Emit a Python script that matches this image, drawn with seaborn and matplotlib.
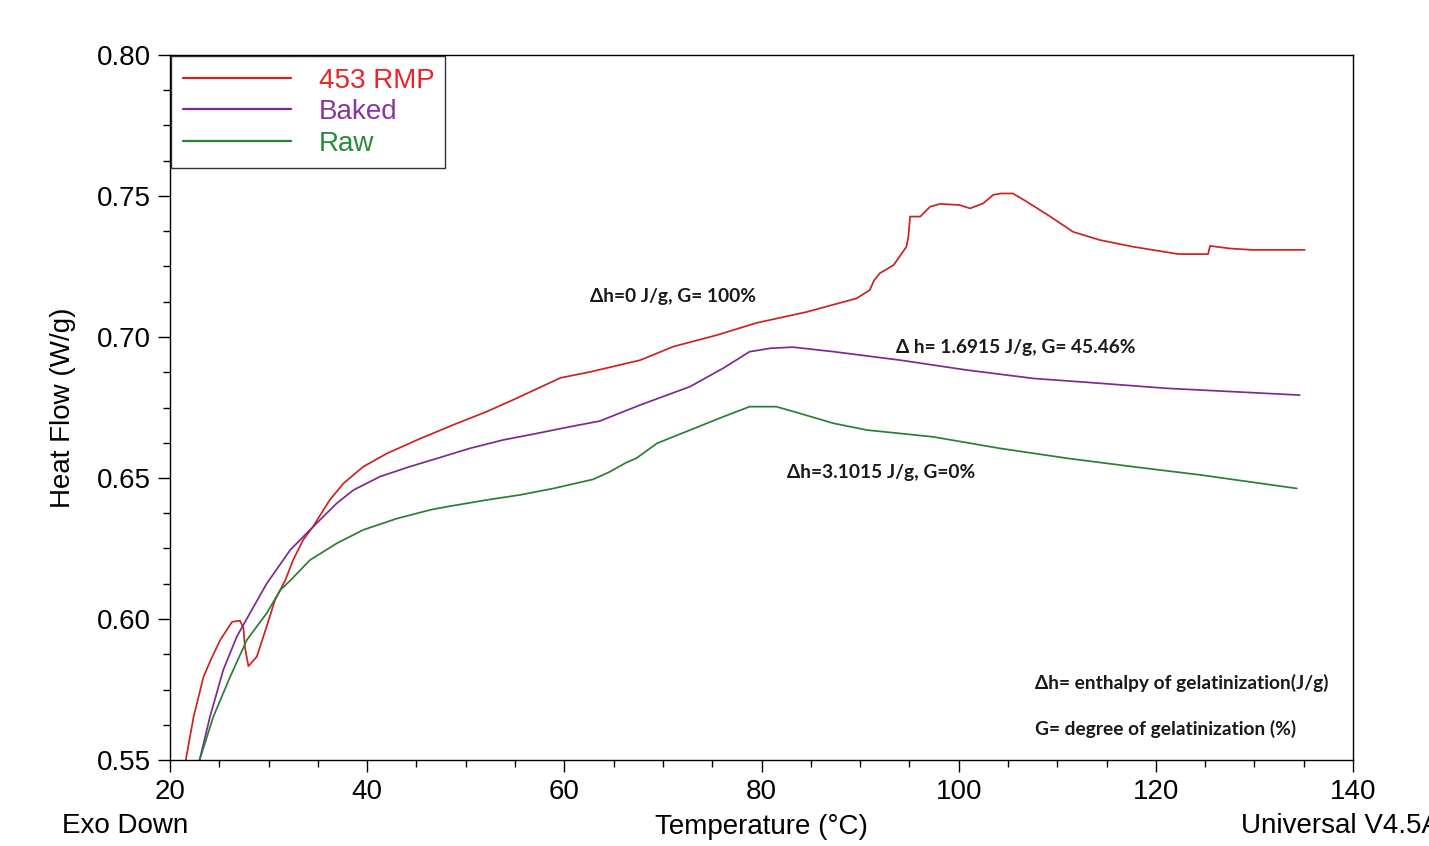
import numpy as np
import pandas as pd
import matplotlib
matplotlib.use("Agg")
import matplotlib.pyplot as plt
import seaborn as sns
from matplotlib.ticker import MultipleLocator, FormatStrFormatter
from matplotlib.lines import Line2D

# 453 RMP (red)
rmp_temp = [21.6, 22.4, 23.4, 24.2, 25.1, 26.3, 27.1, 27.45, 27.6, 27.95, 28.8, 29.8,
            30.65, 31.7, 32.5, 33.5, 34.5, 36.2, 37.6, 39.6, 42.0, 45.4, 48.7, 52.1,
            54.8, 59.6, 62.6, 67.7, 71.06, 75.5, 79.5, 84.6, 89.65, 91.0, 91.4, 92.0,
            93.4, 94.7, 94.9, 95.07, 96.1, 97.1, 98.1, 100.1, 101.15, 102.5, 103.5,
            104.3, 105.5, 106.9, 109.3, 111.6, 114.3, 117.7, 122.3, 125.3, 125.5,
            127.5, 129.7, 135.1]
rmp_flow = [0.550, 0.5654, 0.5795, 0.5860, 0.5926, 0.5990, 0.5994, 0.5968, 0.5900,
            0.5833, 0.5866, 0.5973, 0.6067, 0.6138, 0.6210, 0.6280, 0.6327, 0.6422,
            0.6481, 0.6540, 0.6587, 0.6640, 0.6688, 0.6735, 0.6777, 0.6855, 0.6876,
            0.6918, 0.6966, 0.7007, 0.7050, 0.7089, 0.7137, 0.7167, 0.7200, 0.7226,
            0.7255, 0.7320, 0.7356, 0.7427, 0.7427, 0.7462, 0.7472, 0.7468, 0.7456,
            0.7474, 0.7504, 0.7509, 0.7509, 0.7480, 0.7427, 0.7373, 0.7344, 0.7320,
            0.7294, 0.7294, 0.7323, 0.7314, 0.7309, 0.7309]

# Baked (purple)
baked_temp = [23.0, 24.06, 25.4, 26.77, 28.1, 29.8, 32.2, 34.2, 36.9, 38.6, 41.3, 44.3,
              47.05, 50.4, 53.8, 57.2, 60.6, 63.6, 67.7, 72.75, 76.1, 78.8, 80.9, 83.2,
              87.3, 94.05, 100.8, 107.6, 114.3, 121.1, 127.9, 134.6]
baked_flow = [0.550, 0.5654, 0.5819, 0.5937, 0.6020, 0.6125, 0.6245, 0.6316, 0.6410,
              0.6457, 0.6505, 0.6540, 0.6569, 0.6605, 0.6635, 0.6658, 0.6682, 0.6702,
              0.6759, 0.6824, 0.6889, 0.6948, 0.6960, 0.6964, 0.6948, 0.6918, 0.6883,
              0.6853, 0.6836, 0.6818, 0.6806, 0.6794]

# Raw (green)
raw_temp = [23.0, 24.4, 26.1, 27.8, 29.8, 31.2, 32.3, 34.2, 36.9, 39.6, 43.0, 46.4,
            48.05, 52.1, 55.5, 58.9, 62.9, 64.5, 66.3, 67.3, 69.4, 72.75, 76.1, 78.8,
            81.5, 83.9, 87.3, 90.7, 97.4, 104.2, 111.0, 117.7, 124.5, 134.3]
raw_flow = [0.550, 0.5654, 0.5795, 0.5926, 0.6020, 0.6103, 0.6140, 0.6209, 0.6268,
            0.6316, 0.6356, 0.6387, 0.6398, 0.6422, 0.6440, 0.6463, 0.6495, 0.6520,
            0.6555, 0.6570, 0.6623, 0.6670, 0.6717, 0.6753, 0.6753, 0.6729, 0.6694,
            0.6670, 0.6646, 0.6605, 0.6570, 0.6540, 0.6511, 0.6463]

series_names = ["453 RMP", "Baked", "Raw"]
line_colors = ["#cc2222", "#7d2a8e", "#2a7f32"]
text_colors = ["#e8242a", "#8a35a0", "#2a8a3a"]

notes = ["\u0394h=0 J/g, G= 100%", "\u0394 h= 1.6915 J/g, G= 45.46%", "\u0394h=3.1015 J/g, G=0%",
         "\u0394h= enthalpy of gelatinization(J/g)", "G= degree of gelatinization (%)"]

df = pd.concat([
    pd.DataFrame({"T": rmp_temp, "HF": rmp_flow, "sample": "453 RMP"}),
    pd.DataFrame({"T": baked_temp, "HF": baked_flow, "sample": "Baked"}),
    pd.DataFrame({"T": raw_temp, "HF": raw_flow, "sample": "Raw"}),
], ignore_index=True)

sns.set_style("ticks")
plt.rcParams["font.family"] = ["Liberation Sans", "DejaVu Sans"]
plt.rcParams["text.color"] = "black"

fig = plt.figure(figsize=(14.29, 8.46), dpi=100)
ax = fig.add_axes([170 / 1429, 1 - 760 / 846, (1353 - 170) / 1429, (760 - 55) / 846])

sns.lineplot(data=df, x="T", y="HF", hue="sample", hue_order=series_names,
             palette=dict(zip(series_names, line_colors)), sort=False,
             estimator=None, linewidth=1.25, legend=False, ax=ax)

ax.set_xlim(20, 140)
ax.set_ylim(0.55, 0.80)
ax.xaxis.set_major_locator(MultipleLocator(20))
ax.xaxis.set_minor_locator(MultipleLocator(5))
ax.yaxis.set_major_locator(MultipleLocator(0.05))
ax.yaxis.set_minor_locator(MultipleLocator(0.0125))
ax.yaxis.set_major_formatter(FormatStrFormatter("%.2f"))
ax.tick_params(which="major", direction="out", length=8.5, width=1, labelsize=20,
               pad=5, color="black", labelcolor="black")
ax.tick_params(which="minor", direction="out", length=5, width=1, color="black")
for s in ax.spines.values():
    s.set_visible(True)
    s.set_color("black")
    s.set_linewidth(1)

ax.set_xlabel("Temperature (\u00b0C)", fontsize=20, labelpad=7, color="black")
ax.set_ylabel("Heat Flow (W/g)", fontsize=20, labelpad=15, color="black")

handles = [Line2D([], [], color=c, linewidth=1.6) for c in line_colors]
leg = ax.legend(handles, series_names, loc="upper left", bbox_to_anchor=(0, 1),
                borderaxespad=0.05, fontsize=20, handlelength=3.9, handletextpad=1.0,
                labelspacing=0.2, borderpad=0.4, frameon=True, fancybox=False,
                labelcolor=text_colors)
leg.get_frame().set_edgecolor("black")
leg.get_frame().set_linewidth(1)

note_font = dict(family=["Lato", "DejaVu Sans"], fontweight="bold", fontsize=13.8, color="#1a1a1a")
ax.text(62.6, 0.7145, notes[0], ha="left", va="center", **note_font)
ax.text(93.65, 0.6961, notes[1], ha="left", va="center", **note_font)
ax.text(82.6, 0.6521, notes[2], ha="left", va="center", **note_font)
ax.text(107.75, 0.5773, notes[3], ha="left", va="center", **note_font)
ax.text(107.75, 0.5610, notes[4], ha="left", va="center", **note_font)

fig.text(62 / 1429, 1 - 826 / 846, "Exo Down", fontsize=20, ha="left", va="center", color="black")
fig.text(1241 / 1429, 1 - 826 / 846, "Universal V4.5A", fontsize=20, ha="left", va="center", color="black")

fig.savefig("out.png", dpi=100, facecolor="white")
